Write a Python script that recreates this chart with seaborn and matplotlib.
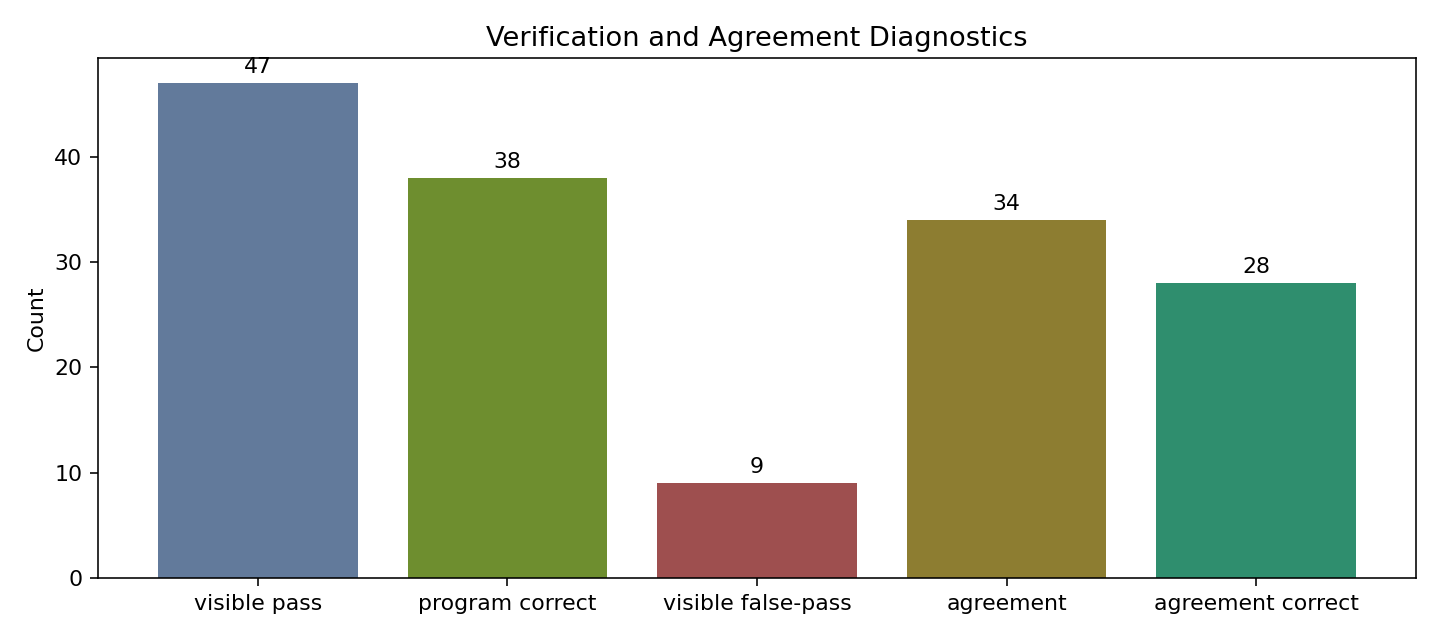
import matplotlib
matplotlib.use("Agg")
import matplotlib.pyplot as plt
import seaborn as sns
import pandas as pd

categories = ["visible pass", "program correct", "visible false-pass", "agreement", "agreement correct"]
counts = [47, 38, 9, 34, 28]
colors = ["#627a9b", "#6e8e2f", "#9e4f4f", "#8d7d31", "#2f8e6e"]

df = pd.DataFrame({"category": categories, "count": counts})

fig, ax = plt.subplots(figsize=(10, 640/144), dpi=144)
sns.barplot(data=df, x="category", y="count", hue="category", palette=colors,
            width=0.8, saturation=1, legend=False, ax=ax)
for c in ax.containers:
    ax.bar_label(c, padding=3, fontsize=11)
ax.set_xlabel("")
ax.set_ylabel("Count", fontsize=11)
ax.tick_params(labelsize=11, length=3.9, pad=3.9)
ax.set_title("Verification and Agreement Diagnostics", fontsize=13.6, pad=6.2)
ax.set_xlim(-0.64, 4.64)
ax.set_ylim(0, 49.35)
fig.subplots_adjust(left=98/1440, right=1416/1440, top=1-58/640, bottom=1-578/640)
fig.savefig("out.png", dpi=144)
